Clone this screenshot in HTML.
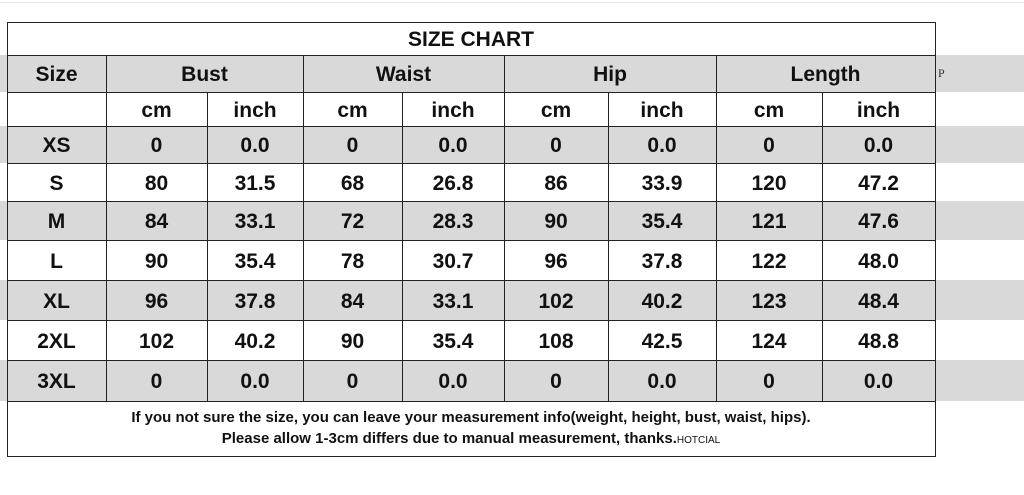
<!DOCTYPE html>
<html><head><style>
body{margin:0;width:1024px;height:495px;background:#fff;position:relative;overflow:hidden;font-family:"Liberation Sans",Arial,sans-serif;font-weight:bold;color:#111}
.b{position:absolute;left:0;width:1024px;background:#d9d9d9}
.c{position:absolute;display:flex;align-items:center;justify-content:center;font-size:21px;box-sizing:border-box;padding-top:3px}
.h{position:absolute;background:#222;height:1.5px}
.v{position:absolute;background:#222;width:1.5px}
</style></head><body>
<div style="position:absolute;left:0;top:2px;width:1024px;height:1px;background:#e6e6e6"></div>
<div class="b" style="top:55px;height:37px"></div>
<div class="b" style="top:126px;height:37px"></div>
<div class="b" style="top:201px;height:39px"></div>
<div class="b" style="top:280px;height:40px"></div>
<div class="b" style="top:360px;height:41px"></div>
<div style="position:absolute;left:7px;top:22px;width:928px;height:33px;background:#fff"></div>
<div style="position:absolute;left:7px;top:92px;width:928px;height:34px;background:#fff"></div>
<div style="position:absolute;left:7px;top:401px;width:928px;height:55px;background:#fff"></div>
<div style="position:absolute;left:938px;top:66px;font:12px 'Liberation Serif',serif;color:#333">P</div>
<div id="g"></div>
<script>
const X=[7,106,207,303,402,504,608,716,822,935];
const Y=[22,55,92,126,163,201,240,280,320,360,401,456];
let h='';
const cell=(x1,x2,y1,y2,t)=>h+=`<div class="c" style="left:${x1}px;width:${x2-x1}px;top:${y1}px;height:${y2-y1}px">${t}</div>`;
cell(7,935,22,55,'SIZE CHART');
cell(7,106,55,92,'Size');
[['Bust',1,3],['Waist',3,5],['Hip',5,7],['Length',7,9]].forEach(a=>cell(X[a[1]],X[a[2]],55,92,a[0]));
for(let i=1;i<9;i++)cell(X[i],X[i+1],92,126,i%2?'cm':'inch');
const d=[['XS',0,'0.0',0,'0.0',0,'0.0',0,'0.0'],['S',80,31.5,68,26.8,86,33.9,120,47.2],['M',84,33.1,72,28.3,90,35.4,121,47.6],['L',90,35.4,78,30.7,96,37.8,122,'48.0'],['XL',96,37.8,84,33.1,102,40.2,123,48.4],['2XL',102,40.2,90,35.4,108,42.5,124,48.8],['3XL',0,'0.0',0,'0.0',0,'0.0',0,'0.0']];
d.forEach((r,j)=>r.forEach((v,i)=>cell(X[i],X[i+1],Y[3+j],Y[4+j],v)));
h+=`<div class="c" style="left:7px;width:928px;top:401px;height:55px;font-size:15px;flex-direction:column;line-height:21px;padding-top:1px"><div>If you not sure the size, you can leave your measurement info(weight, height, bust, waist, hips).</div><div>Please allow 1-3cm differs due to manual measurement, thanks.<span style="font-size:10px;font-weight:normal">HOTCIAL</span></div></div>`;
Y.forEach((y,k)=>h+=`<div class="h" style="left:7px;width:929px;top:${y-0.5}px"></div>`);
h+=`<div class="v" style="left:6.5px;top:22px;height:434px"></div><div class="v" style="left:934.5px;top:22px;height:434px"></div>`;
for(let i=1;i<9;i++){const top=(i%2==0)?92:55;h+=`<div class="v" style="left:${X[i]-0.5}px;top:${top}px;height:${401-top}px"></div>`;}
document.getElementById('g').innerHTML=h;
</script>
</body></html>
